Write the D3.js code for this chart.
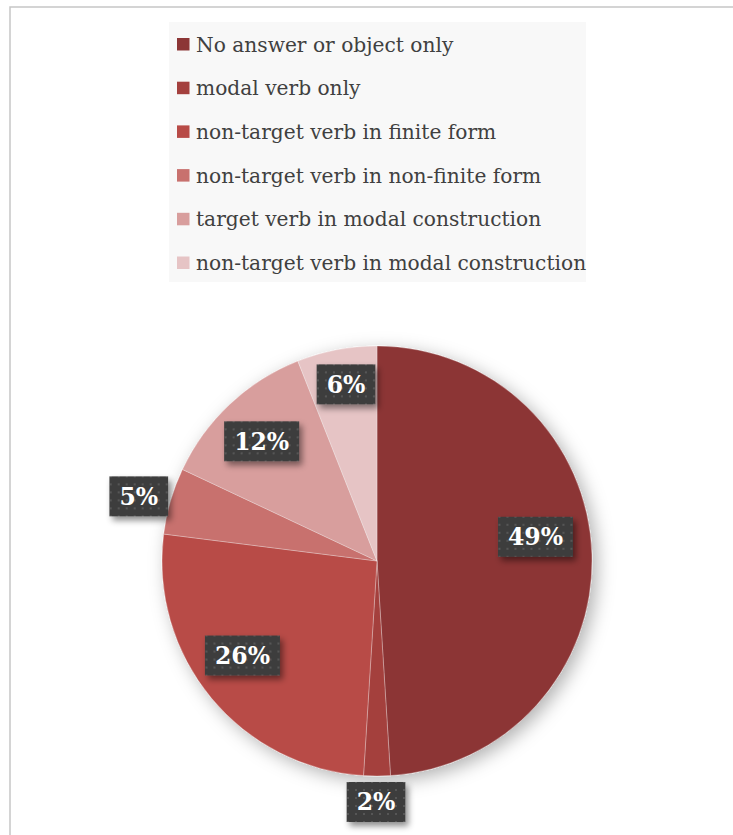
<!DOCTYPE html>
<html>
<head>
<meta charset="utf-8">
<script src="https://cdn.jsdelivr.net/npm/d3@7"></script>
<style>
  html, body { margin: 0; padding: 0; background: #ffffff; }
  svg { display: block; }
</style>
</head>
<body>
<svg id="chart" width="733" height="835"></svg>
<script>
// Response categories, their shares (%) and slice colours
const categories = [
  "No answer or object only",
  "modal verb only",
  "non-target verb in finite form",
  "non-target verb in non-finite form",
  "target verb in modal construction",
  "non-target verb in modal construction"
];
const shares = [49, 2, 26, 5, 12, 6];
const colors = ["#8c3636", "#a4403e", "#b84b47", "#c8716e", "#d89e9d", "#e6c4c5"];

// small hand adjustments of the value boxes (px) so they sit clear of slice edges
const labelShift = [[-7, -19], [-1, -5], [-7, -11], [-2, 4], [-2, 1], [0, -14]];

const svg = d3.select("#chart");
const W = 733, H = 835;

const defs = svg.append("defs");

// soft shadow under the pie
const pieShadow = defs.append("filter").attr("id", "pieShadow")
  .attr("x", "-20%").attr("y", "-20%").attr("width", "140%").attr("height", "140%");
pieShadow.append("feDropShadow")
  .attr("dx", 5).attr("dy", 5).attr("stdDeviation", 9)
  .attr("flood-color", "#000").attr("flood-opacity", 0.3);

// shadow under the value boxes
const boxShadow = defs.append("filter").attr("id", "boxShadow")
  .attr("x", "-30%").attr("y", "-30%").attr("width", "160%").attr("height", "160%");
boxShadow.append("feDropShadow")
  .attr("dx", 3).attr("dy", 4).attr("stdDeviation", 3)
  .attr("flood-color", "#000").attr("flood-opacity", 0.45);

// dotted texture of the value boxes
const dots = defs.append("pattern").attr("id", "dots")
  .attr("patternUnits", "userSpaceOnUse").attr("width", 8).attr("height", 8);
dots.append("rect").attr("width", 8).attr("height", 8).attr("fill", "#3e3e3e");
dots.append("rect").attr("x", 3).attr("y", 3).attr("width", 2).attr("height", 2).attr("fill", "#565656");

// chart area frame
svg.append("rect")
  .attr("x", 10).attr("y", 7).attr("width", W + 20).attr("height", H + 20)
  .attr("fill", "#ffffff").attr("stroke", "#c6c6c6").attr("stroke-width", 1.5);

// legend
const legend = svg.append("g");
legend.append("rect")
  .attr("x", 169).attr("y", 22).attr("width", 417).attr("height", 260)
  .attr("fill", "#f8f8f8");

const rowY = d3.scalePoint().domain(d3.range(categories.length)).range([44.5, 263]);
const rows = legend.selectAll("g.row").data(categories).join("g")
  .attr("class", "row")
  .attr("transform", (d, i) => `translate(177,${rowY(i)})`);
rows.append("rect")
  .attr("x", 0).attr("y", -6.5).attr("width", 12.5).attr("height", 12.5)
  .attr("fill", (d, i) => colors[i]);
rows.append("text")
  .attr("x", 19).attr("y", 7)
  .attr("font-family", "'DejaVu Serif', serif")
  .attr("font-size", 20.2)
  .attr("fill", "#404040")
  .text(d => d);

// pie
const cx = 377, cy = 561, R = 215;
const pie = d3.pie().sort(null).value(d => d)(shares);
const arc = d3.arc().innerRadius(0).outerRadius(R);

const pieG = svg.append("g").attr("transform", `translate(${cx},${cy})`);
pieG.append("g").attr("filter", "url(#pieShadow)")
  .selectAll("path").data(pie).join("path")
  .attr("d", arc)
  .attr("fill", (d, i) => colors[i])
  .attr("stroke", "#ffffff").attr("stroke-opacity", 0.35).attr("stroke-width", 0.8);

// value labels: small slices sit outside the rim, others inside
const inner = d3.arc().innerRadius(R * 0.77).outerRadius(R * 0.77);
const outer = d3.arc().innerRadius(R + 31).outerRadius(R + 31);

const labels = pieG.selectAll("g.lbl").data(pie).join("g")
  .attr("class", "lbl")
  .attr("transform", (d, i) => {
    const p = (d.data < 6 ? outer : inner).centroid(d);
    return `translate(${p[0] + labelShift[i][0]},${p[1] + labelShift[i][1]})`;
  });

labels.each(function(d) {
  const g = d3.select(this);
  const t = g.append("text")
    .attr("text-anchor", "middle")
    .attr("dy", "0.36em")
    .attr("font-family", "'DejaVu Serif', serif")
    .attr("font-weight", "bold")
    .attr("font-size", 23.5)
    .attr("fill", "#ffffff")
    .text(d.data + "%");
  const w = t.node().getComputedTextLength();
  const bw = w + 20, bh = 40;
  g.insert("rect", "text")
    .attr("x", -bw / 2).attr("y", -bh / 2)
    .attr("width", bw).attr("height", bh)
    .attr("fill", "url(#dots)")
    .attr("filter", "url(#boxShadow)");
});
</script>
</body>
</html>
